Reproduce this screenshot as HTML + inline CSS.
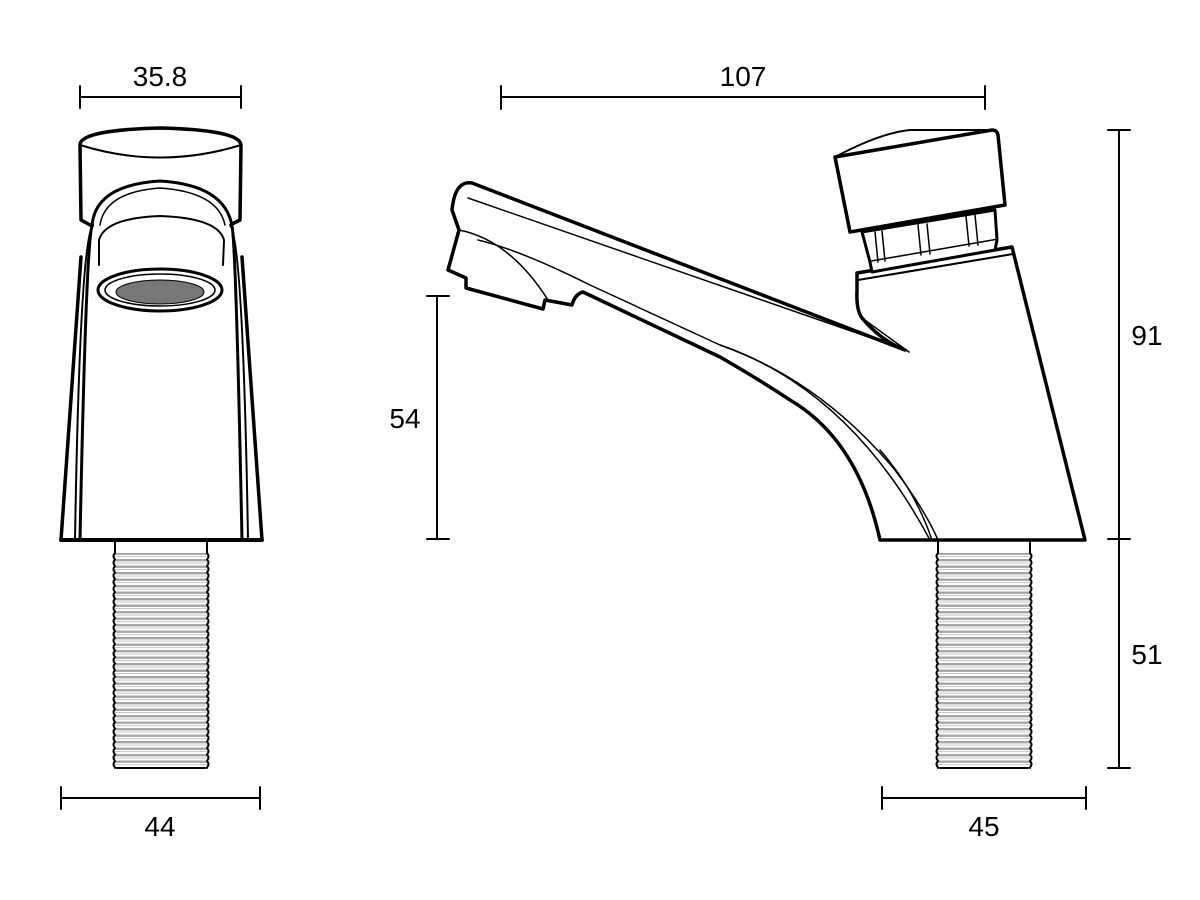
<!DOCTYPE html>
<html><head><meta charset="utf-8"><style>
html,body{margin:0;padding:0;background:#fff;}
svg{display:block;}
text{font-family:"Liberation Sans",Arial,sans-serif;font-size:28px;fill:#000;}
</style></head><body>
<svg width="1200" height="900" viewBox="0 0 1200 900" xmlns="http://www.w3.org/2000/svg">
<defs>
<pattern id="thr" width="10" height="6.5" patternUnits="userSpaceOnUse">
<rect width="10" height="6.5" fill="#fff"/>
<rect y="0" width="10" height="2.4" fill="#a5a5a5"/>
<rect y="3.6" width="10" height="1" fill="#c5c5c5"/>
</pattern>
</defs>
<g stroke="#000" fill="none" stroke-linecap="round" stroke-linejoin="round">
<g stroke-width="2">
<line x1="80" y1="97" x2="241" y2="97"/><line x1="80" y1="86" x2="80" y2="108"/><line x1="241" y1="86" x2="241" y2="108"/>
<line x1="501" y1="97" x2="985" y2="97"/><line x1="501" y1="86" x2="501" y2="109"/><line x1="985" y1="86" x2="985" y2="109"/>
<line x1="437" y1="296" x2="437" y2="539"/><line x1="427" y1="296" x2="449" y2="296"/><line x1="427" y1="539" x2="449" y2="539"/>
<line x1="1119" y1="130" x2="1119" y2="768"/><line x1="1108" y1="130" x2="1130" y2="130"/><line x1="1108" y1="539" x2="1130" y2="539"/><line x1="1108" y1="768" x2="1130" y2="768"/>
<line x1="61" y1="798" x2="260" y2="798"/><line x1="61" y1="787" x2="61" y2="809"/><line x1="260" y1="787" x2="260" y2="809"/>
<line x1="882" y1="798" x2="1086" y2="798"/><line x1="882" y1="787" x2="882" y2="809"/><line x1="1086" y1="787" x2="1086" y2="809"/>
</g>

<rect x="115" y="553" width="92" height="215" fill="url(#thr)" stroke="none"/>
<path d="M115 540 L115 553 M207 540 L207 553" stroke-width="2"/>
<path d="M115 553 q-3 3.25 0 6.5 q-3 3.25 0 6.5 q-3 3.25 0 6.5 q-3 3.25 0 6.5 q-3 3.25 0 6.5 q-3 3.25 0 6.5 q-3 3.25 0 6.5 q-3 3.25 0 6.5 q-3 3.25 0 6.5 q-3 3.25 0 6.5 q-3 3.25 0 6.5 q-3 3.25 0 6.5 q-3 3.25 0 6.5 q-3 3.25 0 6.5 q-3 3.25 0 6.5 q-3 3.25 0 6.5 q-3 3.25 0 6.5 q-3 3.25 0 6.5 q-3 3.25 0 6.5 q-3 3.25 0 6.5 q-3 3.25 0 6.5 q-3 3.25 0 6.5 q-3 3.25 0 6.5 q-3 3.25 0 6.5 q-3 3.25 0 6.5 q-3 3.25 0 6.5 q-3 3.25 0 6.5 q-3 3.25 0 6.5 q-3 3.25 0 6.5 q-3 3.25 0 6.5 q-3 3.25 0 6.5 q-3 3.25 0 6.5 q-3 3.25 0 6.5 L115 768" stroke-width="2"/>
<path d="M207 553 q3 3.25 0 6.5 q3 3.25 0 6.5 q3 3.25 0 6.5 q3 3.25 0 6.5 q3 3.25 0 6.5 q3 3.25 0 6.5 q3 3.25 0 6.5 q3 3.25 0 6.5 q3 3.25 0 6.5 q3 3.25 0 6.5 q3 3.25 0 6.5 q3 3.25 0 6.5 q3 3.25 0 6.5 q3 3.25 0 6.5 q3 3.25 0 6.5 q3 3.25 0 6.5 q3 3.25 0 6.5 q3 3.25 0 6.5 q3 3.25 0 6.5 q3 3.25 0 6.5 q3 3.25 0 6.5 q3 3.25 0 6.5 q3 3.25 0 6.5 q3 3.25 0 6.5 q3 3.25 0 6.5 q3 3.25 0 6.5 q3 3.25 0 6.5 q3 3.25 0 6.5 q3 3.25 0 6.5 q3 3.25 0 6.5 q3 3.25 0 6.5 q3 3.25 0 6.5 q3 3.25 0 6.5 L207 768" stroke-width="2"/>
<line x1="117" y1="768" x2="205" y2="768" stroke-width="2"/>
<path d="M81 257 L61 540 L262 540 L242 257" stroke-width="3.5"/>
<line x1="61" y1="540" x2="262" y2="540" stroke-width="4"/>
<path d="M93 225 Q80 240 75 540" stroke-width="2"/>
<path d="M230 225 Q243 240 248 540" stroke-width="2"/>
<path d="M80 145 Q80 130 160 128 Q240 130 241 145 L240 220 L232 224 M80 145 L81 220 L92 226" stroke-width="3.5" fill="#fff"/>
<path d="M80 145 Q160 170 241 145" stroke-width="2"/>
<path d="M92 226 Q95 185 160 181 Q225 185 232 226 Q236 245 242 540" stroke-width="3"/>
<path d="M92 226 Q86 245 80 540" stroke-width="3"/>
<path d="M100 225 Q105 192 160 188 Q218 192 225 225" stroke-width="1.5"/>
<path d="M99 240 Q105 218 160 216 Q218 218 224 240 L223 265 M99 240 L99 265" stroke-width="2"/>
<ellipse cx="160" cy="290" rx="62" ry="21" stroke-width="3" fill="#fff"/>
<ellipse cx="160" cy="290" rx="55" ry="16" stroke-width="1.5"/>
<ellipse cx="160" cy="292" rx="44" ry="12" stroke-width="1" fill="#777"/>

<rect x="938" y="553" width="92" height="215" fill="url(#thr)" stroke="none"/>
<path d="M938 540 L938 553 M1030 540 L1030 553" stroke-width="2"/>
<path d="M938 553 q-3 3.25 0 6.5 q-3 3.25 0 6.5 q-3 3.25 0 6.5 q-3 3.25 0 6.5 q-3 3.25 0 6.5 q-3 3.25 0 6.5 q-3 3.25 0 6.5 q-3 3.25 0 6.5 q-3 3.25 0 6.5 q-3 3.25 0 6.5 q-3 3.25 0 6.5 q-3 3.25 0 6.5 q-3 3.25 0 6.5 q-3 3.25 0 6.5 q-3 3.25 0 6.5 q-3 3.25 0 6.5 q-3 3.25 0 6.5 q-3 3.25 0 6.5 q-3 3.25 0 6.5 q-3 3.25 0 6.5 q-3 3.25 0 6.5 q-3 3.25 0 6.5 q-3 3.25 0 6.5 q-3 3.25 0 6.5 q-3 3.25 0 6.5 q-3 3.25 0 6.5 q-3 3.25 0 6.5 q-3 3.25 0 6.5 q-3 3.25 0 6.5 q-3 3.25 0 6.5 q-3 3.25 0 6.5 q-3 3.25 0 6.5 q-3 3.25 0 6.5 L938 768" stroke-width="2"/>
<path d="M1030 553 q3 3.25 0 6.5 q3 3.25 0 6.5 q3 3.25 0 6.5 q3 3.25 0 6.5 q3 3.25 0 6.5 q3 3.25 0 6.5 q3 3.25 0 6.5 q3 3.25 0 6.5 q3 3.25 0 6.5 q3 3.25 0 6.5 q3 3.25 0 6.5 q3 3.25 0 6.5 q3 3.25 0 6.5 q3 3.25 0 6.5 q3 3.25 0 6.5 q3 3.25 0 6.5 q3 3.25 0 6.5 q3 3.25 0 6.5 q3 3.25 0 6.5 q3 3.25 0 6.5 q3 3.25 0 6.5 q3 3.25 0 6.5 q3 3.25 0 6.5 q3 3.25 0 6.5 q3 3.25 0 6.5 q3 3.25 0 6.5 q3 3.25 0 6.5 q3 3.25 0 6.5 q3 3.25 0 6.5 q3 3.25 0 6.5 q3 3.25 0 6.5 q3 3.25 0 6.5 q3 3.25 0 6.5 L1030 768" stroke-width="2"/>
<line x1="940" y1="768" x2="1028" y2="768" stroke-width="2"/>

<path d="M857 273 L1012 247 L1085 540 L880 540 Q858 440 790 400 Q760 380 720 357 L583 292 Q575 294 572 305 L545 300 L543 309 L466 288 L466 278 L448 270 L459 230 L452 210 Q455 180 472 183 L905 350 Q880 340 862 318 Q856 310 857 290 Z" stroke-width="3.5" fill="#fff"/>
<path d="M858 280 L1013 254" stroke-width="2"/>
<path d="M468 198 L900 348" stroke-width="1.5"/>
<path d="M862 318 L909 352" stroke-width="1.5"/>
<path d="M459 230 Q510 240 548 300 M478 240 Q520 250 590 285 L720 345 Q820 380 895 470 Q925 510 938 540 M932 540 Q915 490 880 450" stroke-width="1.5"/>
<path d="M720 345 Q850 390 930 540" stroke-width="1.5"/>

<path d="M862 232 L995 210 L997 240 L870 262 Z" stroke-width="3" fill="#fff"/>
<path d="M870 262 L872 272 L995 250 L997 240" stroke-width="3" fill="#fff"/>
<path d="M875 232 L878 262 M882 231 L885 261 M918 225 L921 255 M927 224 L930 254 M966 216 L969 246 M975 215 L978 245" stroke-width="1.5"/>
<path d="M835 157 L992 130 Q997 130 998 135 L1005 205 L850 232 Z" stroke-width="3.5" fill="#fff"/>
<path d="M835 157 Q880 133 910 130 L992 130 M835 157 L992 130" stroke-width="2"/>
</g>

<text x="160" y="86" text-anchor="middle">35.8</text>
<text x="743" y="86" text-anchor="middle">107</text>
<text x="405" y="428" text-anchor="middle">54</text>
<text x="1147" y="345" text-anchor="middle">91</text>
<text x="1147" y="664" text-anchor="middle">51</text>
<text x="160" y="836" text-anchor="middle">44</text>
<text x="984" y="836" text-anchor="middle">45</text>
</svg>
</body></html>
